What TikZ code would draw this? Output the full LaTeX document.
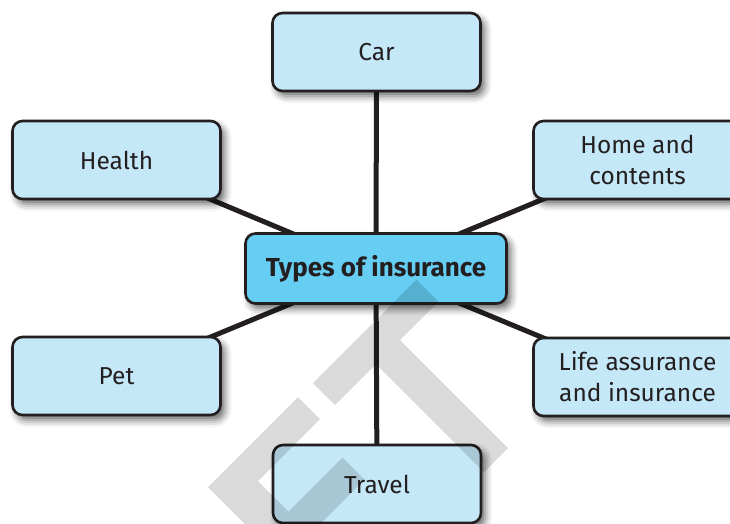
\documentclass[tikz,border=0pt]{standalone}
\usepackage{fontspec}
\setmainfont{Fira Sans}
\usetikzlibrary{shadows.blur, backgrounds}
\definecolor{boxblue}{HTML}{C5E8F8}
\definecolor{hubblue}{HTML}{66CDF3}
\definecolor{ink}{HTML}{231F20}

\begin{document}
\begin{tikzpicture}[x=1pt, y=-1pt,
    box/.style={draw=ink, line width=2.6pt, rounded corners=10pt, fill=boxblue,
      text=ink, font=\fontsize{24.5}{31}\selectfont, align=center,
      minimum width=208pt, minimum height=78pt, inner sep=0pt,
      blur shadow={shadow xshift=4pt, shadow yshift=-5pt,
        shadow blur radius=7pt, shadow opacity=60}},
    hub/.style={box, fill=hubblue, font=\fontsize{26}{31}\selectfont\bfseries,
      minimum width=261pt, minimum height=70pt},
    spoke/.style={draw=ink, line width=5pt}]
    \useasboundingbox (0,0) rectangle (730,523);

    \node[hub] (types) at (376, 268.5) {Types of insurance};
    \node[box] (car)    at (376.5, 52)  {Car};
    \node[box] (health) at (116.5, 160) {Health};
    \node[box] (home)   at (637.5, 160) {Home and\\contents};
    \node[box] (pet)    at (116.5, 376) {Pet};
    \node[box] (life)   at (637.5, 377) {Life assurance\\and insurance};
    \node[box] (travel) at (377, 484)   {Travel};

    \begin{scope}[on background layer]
      \foreach \n in {car, health, home, pet, life, travel}
        \draw[spoke] (types.center) -- (\n.center);
    \end{scope}

    % watermark
    \begin{scope}
      \clip (0,0) rectangle (730,523);
      \fill[black, fill opacity=0.145] (416.5,279.5) -- (438.5,301.5) -- (400,340)
        -- (508,448) -- (484,472) -- (376,364) -- (335,405) -- (313,383) -- cycle;
      \fill[black, fill opacity=0.145] (298,397) -- (320,419) -- (258,481)
        -- (288.5,511.5) -- (342.5,457.5) -- (364.5,479.5) -- (282.5,561.5)
        -- (208,487) -- cycle;
    \end{scope}
  \end{tikzpicture}
\end{document}
